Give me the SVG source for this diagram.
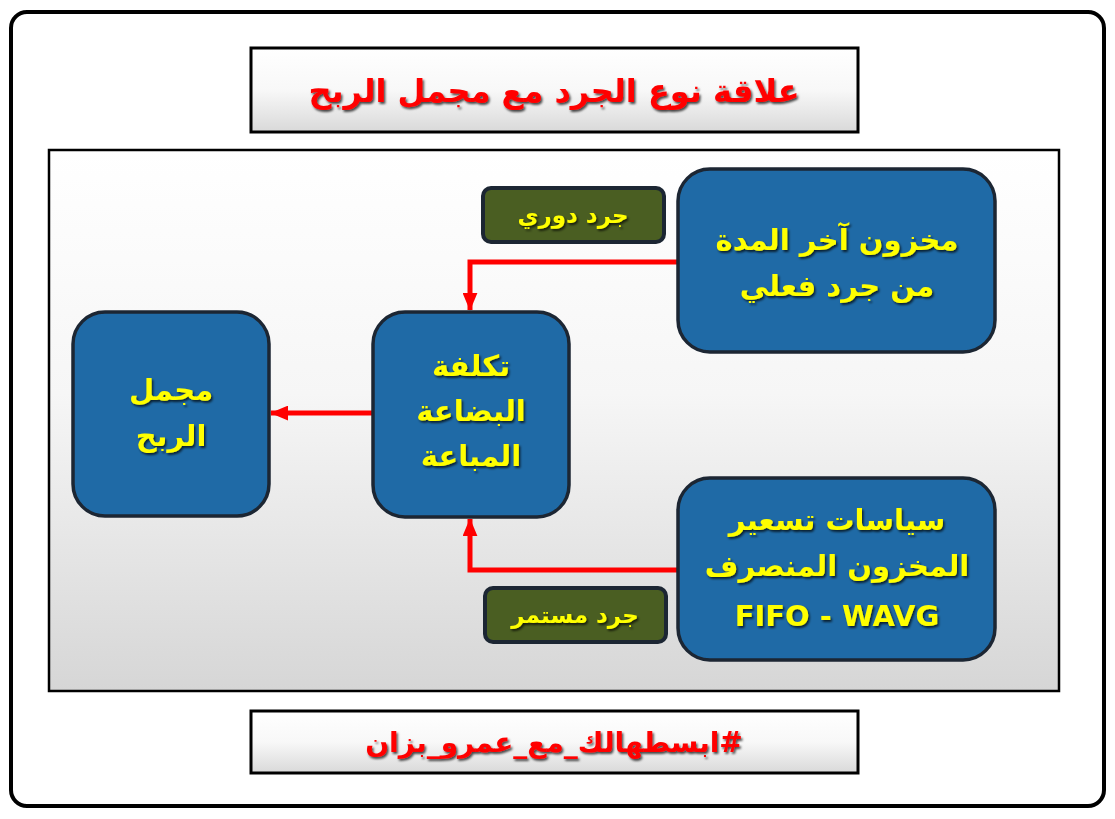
<svg xmlns="http://www.w3.org/2000/svg" width="1115" height="819" viewBox="0 0 1115 819">
<defs>
<linearGradient id="gBox" x1="0" y1="0" x2="0" y2="1"><stop offset="0" stop-color="#ffffff"/><stop offset="0.5" stop-color="#f8f8f8"/><stop offset="1" stop-color="#d9d9d9"/></linearGradient>
<linearGradient id="gPanel" x1="0" y1="0" x2="0" y2="1"><stop offset="0" stop-color="#ffffff"/><stop offset="0.45" stop-color="#f6f6f6"/><stop offset="1" stop-color="#d6d6d6"/></linearGradient>
<marker id="arr" viewBox="0 0 12 10" refX="11.5" refY="5" markerWidth="3.6" markerHeight="3" orient="auto" markerUnits="strokeWidth"><path d="M0,0 L12,5 L0,10 z" fill="#ff0000"/></marker>
<filter id="sh" x="-10%" y="-10%" width="120%" height="130%"><feDropShadow dx="1.5" dy="2" stdDeviation="1" flood-color="#000" flood-opacity="0.7"/></filter>
</defs>
<style>
.node{fill:#1f6aa6;stroke:#1c2633;stroke-width:3.5}
.tag{fill:#4a5e22;stroke:#1c2633;stroke-width:4}
.t{font-family:"DejaVu Sans",sans-serif;font-weight:bold;fill:#ffff00;text-anchor:middle;filter:url(#sh)}
.big{font-size:29px}
.small{font-size:23px}
.red{font-family:"DejaVu Sans",sans-serif;font-weight:bold;fill:#ff0000;text-anchor:middle;filter:url(#sh)}
.conn{fill:none;stroke:#ff0000;stroke-width:5}
</style>
<rect x="0" y="0" width="1115" height="819" fill="#ffffff"/>
<rect x="11" y="12" width="1093" height="794" rx="16" fill="#ffffff" stroke="#000" stroke-width="4"/>
<g id="title">
<rect x="251" y="48" width="607" height="84" fill="url(#gBox)" stroke="#000" stroke-width="3"/>
<text class="red" x="554" y="102" font-size="32" direction="rtl">علاقة نوع الجرد مع مجمل الربح</text>
</g>
<rect x="49" y="150" width="1010" height="541" fill="url(#gPanel)" stroke="#000" stroke-width="2.5"/>
<g id="connectors">
<path class="conn" d="M678,262 H470 V310" marker-end="url(#arr)"/>
<path class="conn" d="M678,570 H470 V519" marker-end="url(#arr)"/>
<path class="conn" d="M372,413 H271" marker-end="url(#arr)"/>
</g>
<g id="n-ending">
<rect class="node" x="678" y="169" width="317" height="183" rx="32"/>
<text class="t big" x="837" y="250" direction="rtl">مخزون آخر المدة</text>
<text class="t big" x="837" y="296" direction="rtl">من جرد فعلي</text>
</g>
<g id="n-policies">
<rect class="node" x="678" y="478" width="317" height="182" rx="32"/>
<text class="t big" x="837" y="530" direction="rtl">سياسات تسعير</text>
<text class="t big" x="837" y="576" direction="rtl">المخزون المنصرف</text>
<text class="t big" x="837" y="626">FIFO - WAVG</text>
</g>
<g id="n-cogs">
<rect class="node" x="373" y="312" width="196" height="205" rx="32"/>
<text class="t big" x="471" y="376" direction="rtl">تكلفة</text>
<text class="t big" x="471" y="421" direction="rtl">البضاعة</text>
<text class="t big" x="471" y="466" direction="rtl">المباعة</text>
</g>
<g id="n-gross">
<rect class="node" x="73" y="312" width="196" height="204" rx="32"/>
<text class="t big" x="171" y="400" direction="rtl">مجمل</text>
<text class="t big" x="171" y="446" direction="rtl">الربح</text>
</g>
<g id="tag-periodic">
<rect class="tag" x="483" y="188" width="181" height="54" rx="8"/>
<text class="t small" x="573" y="223" direction="rtl">جرد دوري</text>
</g>
<g id="tag-perpetual">
<rect class="tag" x="485" y="588" width="181" height="54" rx="8"/>
<text class="t small" x="575" y="623" direction="rtl">جرد مستمر</text>
</g>
<g id="footer">
<rect x="251" y="711" width="607" height="62" fill="url(#gBox)" stroke="#000" stroke-width="3"/>
<text class="red" x="554" y="752" font-size="28" direction="rtl">#ابسطهالك_مع_عمرو_بزان</text>
</g>
</svg>
